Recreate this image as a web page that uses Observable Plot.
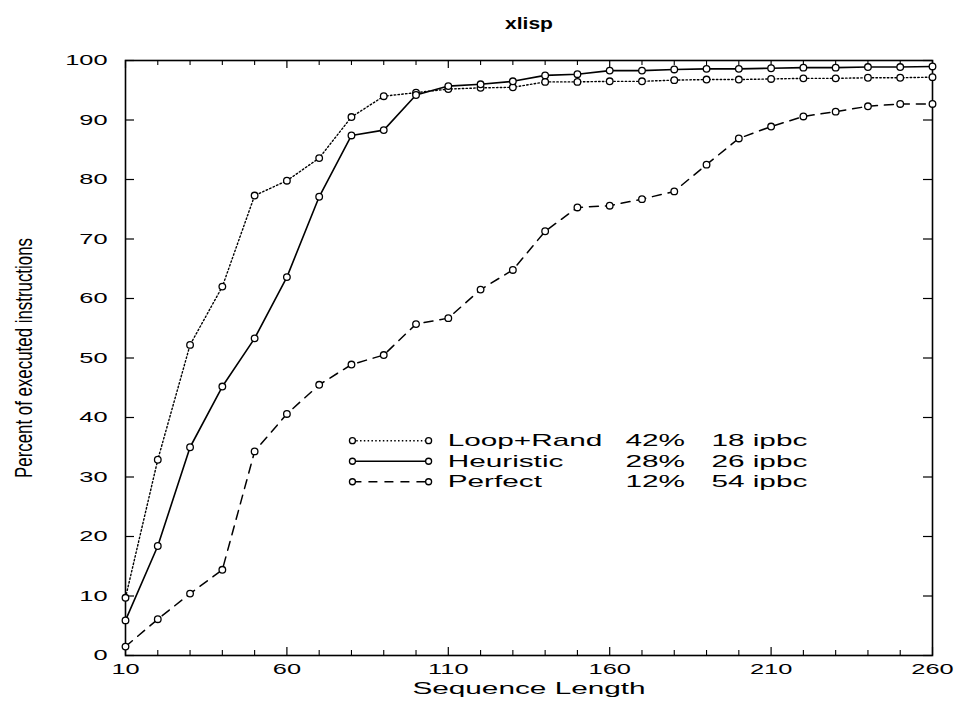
<!DOCTYPE html>
<html><head><meta charset="utf-8">
<script src="https://cdn.jsdelivr.net/npm/d3@7"></script>
<script src="https://cdn.jsdelivr.net/npm/@observablehq/plot@0.6"></script>
<style>body{margin:0;background:#fff} svg{display:block}</style>
</head><body><div id="chart"></div>
<script>
const title = "xlisp";
const xLabel = "Sequence Length";
const yLabel = "Percent of executed instructions";
const sequenceLength = [10,20,30,40,50,60,70,80,90,100,110,120,130,140,150,160,170,180,190,200,210,220,230,240,250,260];
const loopRand  = [9.7,32.9,52.2,62.0,77.3,79.8,83.6,90.5,94.0,94.6,95.2,95.4,95.5,96.4,96.4,96.5,96.5,96.7,96.8,96.8,96.9,97.0,97.0,97.1,97.1,97.2];
const heuristic = [5.9,18.4,35.0,45.2,53.3,63.6,77.1,87.4,88.3,94.2,95.7,96.0,96.5,97.5,97.7,98.3,98.3,98.5,98.6,98.6,98.7,98.8,98.8,98.9,98.9,99.0];
const perfect   = [1.5,6.1,10.4,14.4,34.3,40.6,45.5,48.9,50.5,55.7,56.7,61.5,64.8,71.3,75.3,75.6,76.7,78.0,82.5,86.9,88.9,90.6,91.4,92.3,92.7,92.7];
const seriesNames = ["Loop+Rand","Heuristic","Perfect"];
const legendPct = ["42%","28%","12%"];
const legendIpbc = ["18 ipbc","26 ipbc","54 ipbc"];
const xTickLabels = [10,60,110,160,210,260];
const xMinorTicks = [20,30,40,50,70,80,90,100,120,130,140,150,170,180,190,200,220,230,240,250];
const yTicks = [0,10,20,30,40,50,60,70,80,90,100];

const W = 961, H = 702, mL = 125, mR = 29, mT = 60, mB = 47;
const innerW = W - mL - mR, innerH = H - mT - mB;
const seriesStyle = [
  {dash: "1.5,2.3", width: 1.4},
  {dash: null, width: 1.6},
  {dash: "9,7", width: 1.5}
];
const seriesValues = [loopRand, heuristic, perfect];
const rows = seriesNames.flatMap((name, i) => sequenceLength.map((x, j) => ({series: name, x, y: seriesValues[i][j]})));
const legend = seriesNames.map((name, i) => ({
  name, pct: legendPct[i], ipbc: legendIpbc[i],
  y: 36.1 - i * 3.45, x1: 80.3, x2: 103.9, xt: 109.8, xp: 164.9, xi: 191.5
}));

const font = {fontSize: 17, fill: "black"};
const marks = [
  Plot.frame({stroke: "black", strokeWidth: 1.6}),
  // inward ticks on the frame
  Plot.tickX(xTickLabels, {x: d => d, insetTop: innerH - 8, stroke: "black", strokeWidth: 1.2}),
  Plot.tickX(xMinorTicks, {x: d => d, insetTop: innerH - 5, stroke: "black", strokeWidth: 1.1}),
  Plot.tickX(xTickLabels, {x: d => d, insetBottom: innerH - 8, stroke: "black", strokeWidth: 1.2}),
  Plot.tickX(xMinorTicks, {x: d => d, insetBottom: innerH - 5, stroke: "black", strokeWidth: 1.1}),
  Plot.tickY(yTicks, {y: d => d, insetRight: innerW - 9, stroke: "black", strokeWidth: 1.2}),
  Plot.tickY(yTicks, {y: d => d, insetLeft: innerW - 9, stroke: "black", strokeWidth: 1.2}),
  Plot.axisX(xTickLabels, {tickSize: 0, tickPadding: 8, fontSize: 14.5, label: null}),
  Plot.axisY(yTicks, {tickSize: 0, tickPadding: 18, fontSize: 14.5, label: null}),
];
seriesNames.forEach((name, i) => {
  const st = seriesStyle[i];
  marks.push(Plot.line(rows.filter(d => d.series === name), {x: "x", y: "y", stroke: "black", strokeWidth: st.width, strokeDasharray: st.dash}));
  marks.push(Plot.link(legend.filter(d => d.name === name), {x1: "x1", x2: "x2", y1: "y", y2: "y", stroke: "black", strokeWidth: st.width, strokeDasharray: st.dash}));
});
marks.push(
  Plot.dot(rows, {x: "x", y: "y", r: 3.3, stroke: "black", fill: "white", strokeWidth: 1.3}),
  Plot.dot(legend, {x: "x1", y: "y", r: 3, stroke: "black", fill: "white", strokeWidth: 1.3}),
  Plot.dot(legend, {x: "x2", y: "y", r: 3, stroke: "black", fill: "white", strokeWidth: 1.3}),
  Plot.text(legend, {x: "xt", y: "y", text: "name", textAnchor: "start", ...font}),
  Plot.text(legend, {x: "xp", y: "y", text: "pct", textAnchor: "start", ...font}),
  Plot.text(legend, {x: "xi", y: "y", text: "ipbc", textAnchor: "start", ...font}),
  Plot.text([title], {text: d => d, frameAnchor: "top", dy: -37, textAnchor: "middle", lineAnchor: "middle", fontWeight: "bold", fontSize: 17, fill: "black"}),
  Plot.text([xLabel], {text: d => d, frameAnchor: "bottom", dy: 33, textAnchor: "middle", lineAnchor: "middle", ...font}),
  Plot.text([yLabel], {text: d => d, frameAnchor: "left", dx: -101, rotate: -90, textAnchor: "middle", lineAnchor: "middle", fontSize: 16.5, fill: "black"})
);

const chart = Plot.plot({
  width: W, height: H,
  marginLeft: mL, marginRight: mR, marginTop: mT, marginBottom: mB,
  style: {fontFamily: "'Liberation Sans', Arial, Helvetica, sans-serif", background: "white", color: "black", overflow: "visible"},
  x: {domain: [10, 260]},
  y: {domain: [0, 100]},
  marks
});
document.getElementById("chart").append(chart);

// the scanned original is stretched horizontally: widen horizontal text glyphs
const stretch = 1.75;
chart.querySelectorAll("text").forEach(t => {
  const s = t.textContent;
  const L = t.getComputedTextLength();
  if (!L) return;
  if (s === yLabel) {
    t.setAttribute("textLength", 240);
    t.setAttribute("lengthAdjust", "spacingAndGlyphs");
    t.setAttribute("transform", (t.getAttribute("transform") || "") + " scale(1,1.4)");
    return;
  }
  const f = s === title ? 48 / L : stretch;
  t.setAttribute("textLength", L * f);
  t.setAttribute("lengthAdjust", "spacingAndGlyphs");
});
</script>
</body></html>
